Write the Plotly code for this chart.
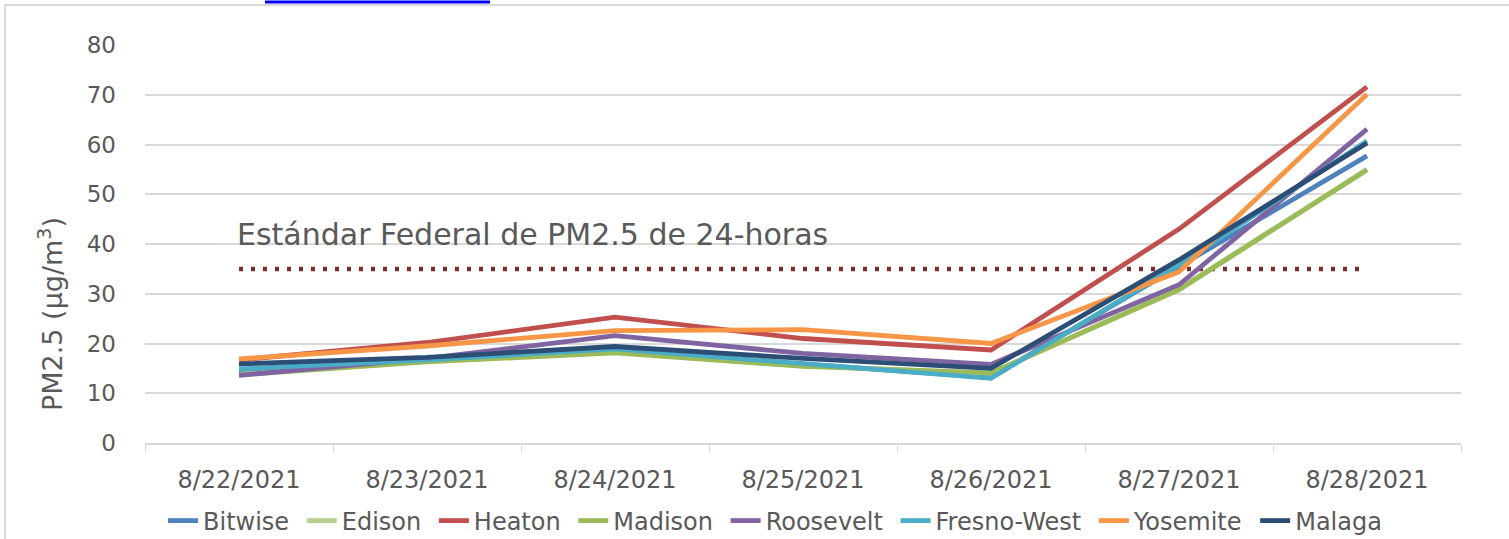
import plotly.graph_objects as go

dates = ["8/22/2021", "8/23/2021", "8/24/2021", "8/25/2021", "8/26/2021", "8/27/2021", "8/28/2021"]

bitwise    = [14.0, 16.5, 18.5, 15.8, 13.2, 35.5, 57.7]
edison     = [13.8, 16.4, 18.3, 15.5, 14.0, 31.0, 55.0]
heaton     = [16.7, 20.2, 25.3, 21.0, 18.7, 43.0, 71.6]
madison    = [13.7, 16.3, 18.1, 15.4, 14.1, 30.8, 54.9]
roosevelt  = [13.6, 17.0, 21.6, 18.0, 15.8, 31.8, 63.1]
fresnowest = [14.9, 16.7, 18.9, 16.0, 13.0, 35.8, 60.7]
yosemite   = [16.9, 19.5, 22.6, 22.8, 20.0, 34.4, 70.1]
malaga     = [15.9, 17.2, 19.4, 17.0, 15.0, 36.8, 60.3]

standard_value = 35
standard_label = "Estándar Federal de PM2.5 de 24-horas"
y_title = "PM2.5 (µg/m<sup>3</sup>)"

series = [
    ("Bitwise", bitwise, "#4F81BD"),
    ("Edison", edison, "#B5CF8E"),
    ("Heaton", heaton, "#C0504D"),
    ("Madison", madison, "#9BBB59"),
    ("Roosevelt", roosevelt, "#8064A2"),
    ("Fresno-West", fresnowest, "#4BACC6"),
    ("Yosemite", yosemite, "#F79646"),
    ("Malaga", malaga, "#2C4D75"),
]

FONT = "DejaVu Sans"
GREY = "#595959"
PLOT_W, PLOT_H = 1316, 398
PAD = "\u00a0"  # legend spacing between entries

fig = go.Figure()

fig.add_trace(go.Scatter(
    x=dates, y=[standard_value] * len(dates), mode="lines",
    line=dict(color="#7B2C2C", width=4.5, dash="4px,8px"),
    showlegend=False, hoverinfo="skip",
))

for i, (name, vals, color) in enumerate(series):
    fig.add_trace(go.Scatter(
        x=dates, y=vals, mode="lines",
        name=name + (PAD if i < len(series) - 1 else ""),
        line=dict(color=color, width=4.8),
    ))

fig.add_annotation(
    x=dates[0], y=42, xref="x", yref="y", text=standard_label,
    showarrow=False, xanchor="left", yanchor="middle", xshift=-4,
    font=dict(family=FONT, size=30, color=GREY),
)

# y-axis title as rotated annotation (placed lower, as in the reference)
fig.add_annotation(
    x=(50 - 145) / PLOT_W, y=(443 - 314) / PLOT_H, xref="paper", yref="paper",
    text=y_title, textangle=-90, showarrow=False,
    xanchor="center", yanchor="middle",
    font=dict(family=FONT, size=27, color=GREY),
)

# outer chart border
fig.add_shape(type="rect", xref="paper", yref="paper",
              x0=-140/PLOT_W, x1=1.1, y0=-0.3, y1=1 + 40/PLOT_H,
              line=dict(color="#D9D9D9", width=2), fillcolor="rgba(0,0,0,0)", layer="below")
# hyperlink underline at top (cut-off text line)
fig.add_shape(type="line", xref="paper", yref="paper",
              x0=(265-145)/PLOT_W, x1=(490-145)/PLOT_W, y0=1 + 43/PLOT_H, y1=1 + 43/PLOT_H,
              line=dict(color="#0000FF", width=3))

fig.update_layout(
    width=1509, height=539,
    margin=dict(l=145, r=48, t=45, b=96, autoexpand=False),
    paper_bgcolor="white", plot_bgcolor="white",
    font=dict(family=FONT, size=22, color=GREY),
    showlegend=True,
    legend=dict(orientation="h", xref="container", yref="container",
                x=775 / 1509, xanchor="center", y=(539 - 521) / 539, yanchor="middle",
                font=dict(family=FONT, size=24, color=GREY), bgcolor="rgba(0,0,0,0)",
                itemwidth=30, tracegroupgap=0, traceorder="normal"),
    xaxis=dict(
        type="category", range=[-0.5, 6.5], showgrid=False,
        showline=True, linecolor="#D9D9D9", linewidth=1.5,
        ticks="outside", tickson="boundaries", ticklen=8, tickcolor="#D9D9D9",
        tickfont=dict(family=FONT, size=24, color=GREY), ticklabelstandoff=14,
    ),
    yaxis=dict(
        range=[0, 80], dtick=10, showgrid=True, gridcolor="#D9D9D9", gridwidth=1.5,
        zeroline=False, showline=False,
        tickfont=dict(family=FONT, size=23, color=GREY), ticks="", ticklabelstandoff=28,
    ),
)

fig.write_html("out.html", config={"displayModeBar": False},
               post_script="document.body.style.margin='0px';")
